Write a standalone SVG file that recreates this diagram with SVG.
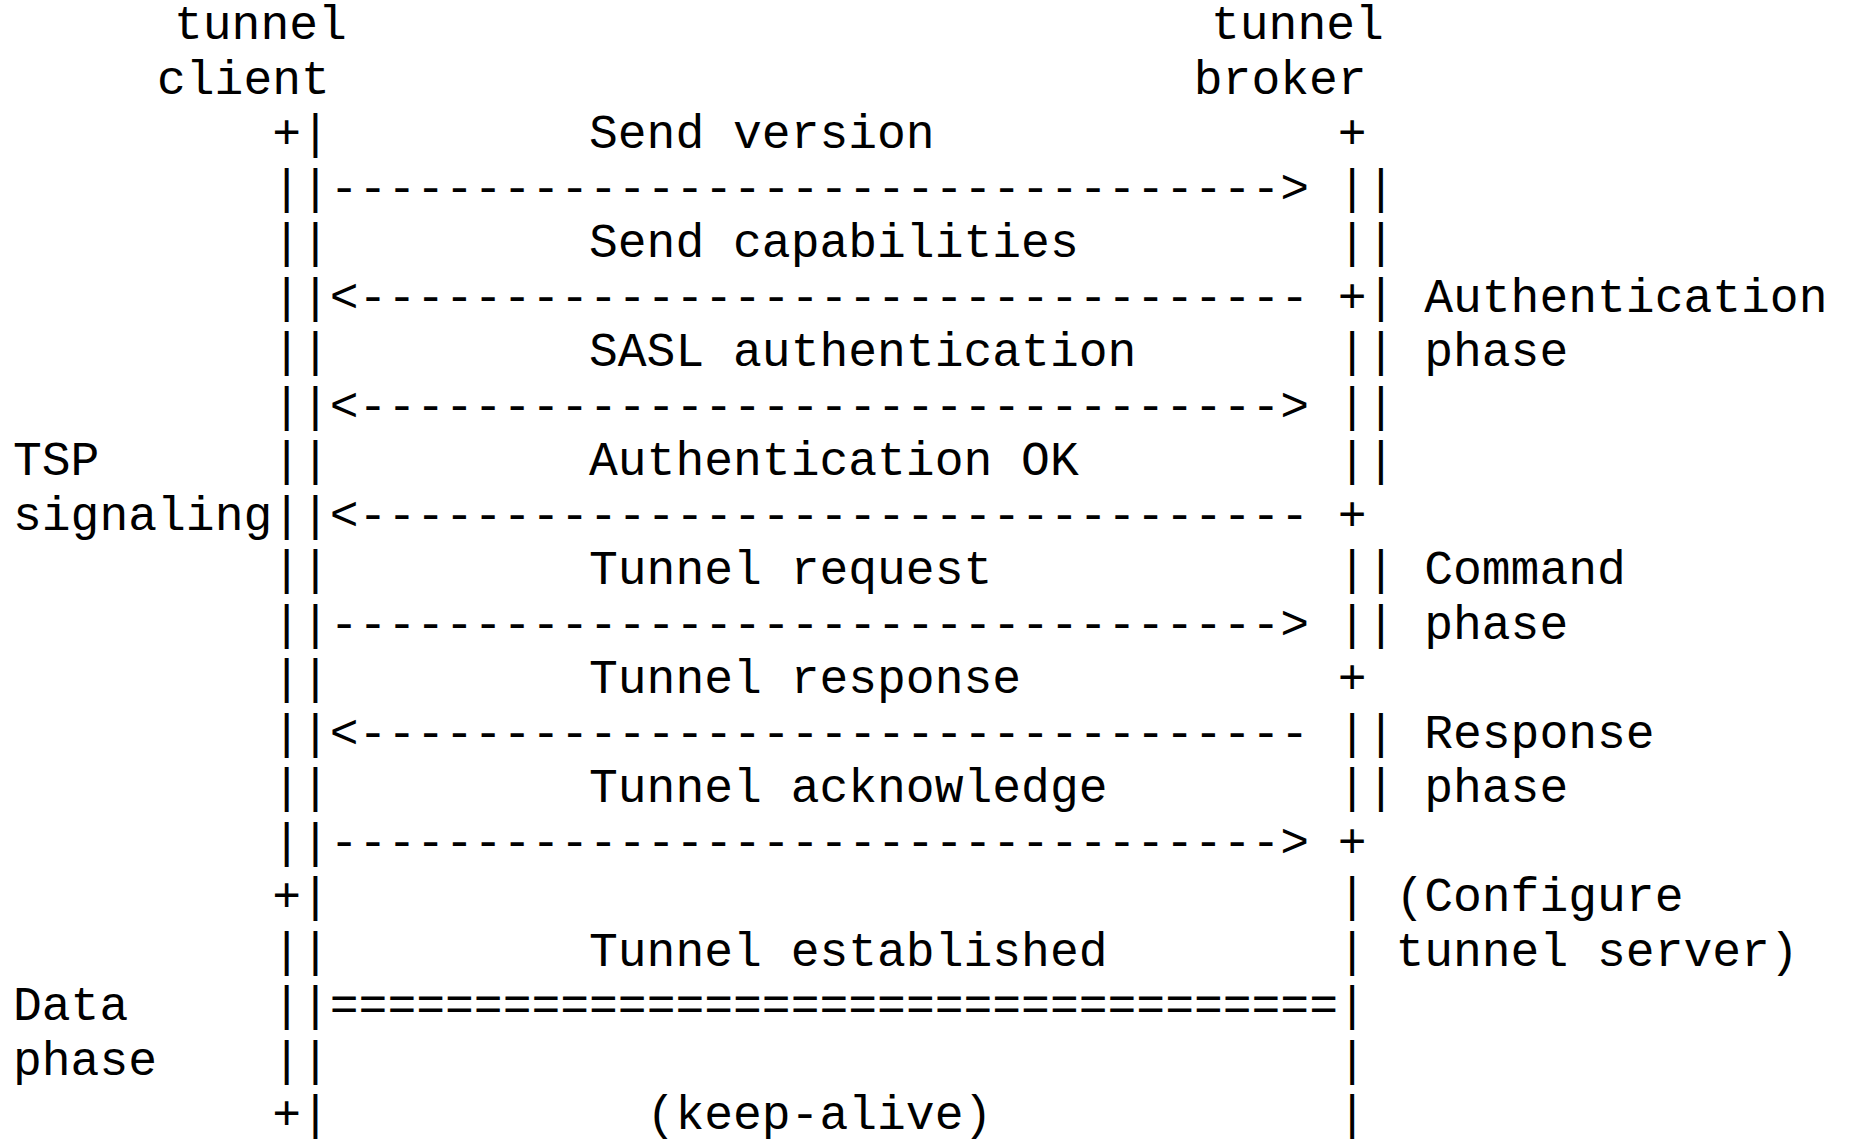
<svg xmlns="http://www.w3.org/2000/svg" width="1849" height="1141" viewBox="0 0 1849 1141" xml:space="preserve">
<style>
text { font-family: "Liberation Mono", "DejaVu Sans Mono", monospace; font-size: 48px; fill: #000; white-space: pre; }
</style>
<rect width="1849" height="1141" fill="#fff"/>
<g id="client">
<text x="174" y="39">tunnel</text>
<text x="157" y="93.5">client</text>
</g>
<g id="broker">
<text x="1211" y="39">tunnel</text>
<text x="1193.8" y="93.5">broker</text>
</g>
<g id="client-lifeline">
<text x="272.2" y="148">+|</text>
<text x="272.2" y="202.5">||</text>
<text x="272.2" y="257">||</text>
<text x="272.2" y="311.5">||</text>
<text x="272.2" y="366">||</text>
<text x="272.2" y="420.5">||</text>
<text x="272.2" y="475">||</text>
<text x="272.2" y="529.5">||</text>
<text x="272.2" y="584">||</text>
<text x="272.2" y="638.5">||</text>
<text x="272.2" y="693">||</text>
<text x="272.2" y="747.5">||</text>
<text x="272.2" y="802">||</text>
<text x="272.2" y="856.5">||</text>
<text x="272.2" y="911">+|</text>
<text x="272.2" y="965.5">||</text>
<text x="272.2" y="1020">||</text>
<text x="272.2" y="1074.5">||</text>
<text x="272.2" y="1129">+|</text>
</g>
<g id="broker-lifeline">
<text x="1337.8" y="148">+</text>
<text x="1337.8" y="202.5">||</text>
<text x="1337.8" y="257">||</text>
<text x="1337.8" y="311.5">+|</text>
<text x="1337.8" y="366">||</text>
<text x="1337.8" y="420.5">||</text>
<text x="1337.8" y="475">||</text>
<text x="1337.8" y="529.5">+</text>
<text x="1337.8" y="584">||</text>
<text x="1337.8" y="638.5">||</text>
<text x="1337.8" y="693">+</text>
<text x="1337.8" y="747.5">||</text>
<text x="1337.8" y="802">||</text>
<text x="1337.8" y="856.5">+</text>
<text x="1337.8" y="911">|</text>
<text x="1337.8" y="965.5">|</text>
<text x="1337.8" y="1020">|</text>
<text x="1337.8" y="1074.5">|</text>
<text x="1337.8" y="1129">|</text>
</g>
<g id="phase-labels">
<text x="13" y="475">TSP</text>
<text x="13" y="529.5">signaling</text>
<text x="13" y="1020">Data</text>
<text x="13" y="1074.5">phase</text>
<text x="1424.2" y="311.5">Authentication</text>
<text x="1424.2" y="366">phase</text>
<text x="1424.2" y="584">Command</text>
<text x="1424.2" y="638.5">phase</text>
<text x="1424.2" y="747.5">Response</text>
<text x="1424.2" y="802">phase</text>
<text x="1395.4" y="911">(Configure</text>
<text x="1395.4" y="965.5">tunnel server)</text>
</g>
<g id="message-labels">
<text x="589" y="148">Send version</text>
<text x="589" y="257">Send capabilities</text>
<text x="589" y="366">SASL authentication</text>
<text x="589" y="475">Authentication OK</text>
<text x="589" y="584">Tunnel request</text>
<text x="589" y="693">Tunnel response</text>
<text x="589" y="802">Tunnel acknowledge</text>
<text x="589" y="965.5">Tunnel established</text>
<text x="646.6" y="1129">(keep-alive)</text>
</g>
<g id="connectors">
<text x="329.8" y="202.5">---------------------------------&gt;</text>
<text x="329.8" y="311.5">&lt;---------------------------------</text>
<text x="329.8" y="420.5">&lt;--------------------------------&gt;</text>
<text x="329.8" y="529.5">&lt;---------------------------------</text>
<text x="329.8" y="638.5">---------------------------------&gt;</text>
<text x="329.8" y="747.5">&lt;---------------------------------</text>
<text x="329.8" y="856.5">---------------------------------&gt;</text>
<text x="329.8" y="1020">===================================</text>
</g>
</svg>
